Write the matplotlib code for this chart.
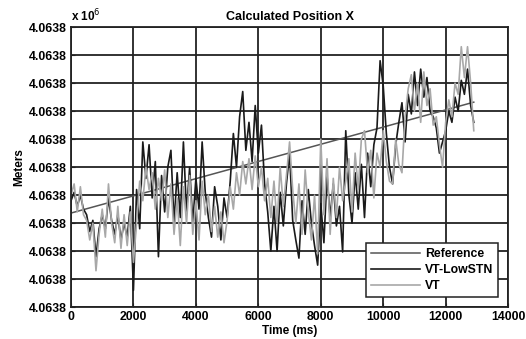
import numpy as np
import matplotlib.pyplot as plt
from matplotlib.ticker import FuncFormatter

plt.rcParams['font.family'] = ['Liberation Sans', 'DejaVu Sans']

# positions are stored as offsets (m) from pos_base
pos_base = 4063830.0
time_ms = np.arange(0, 13000, 100)

vt_lowstn = [
    3.8, 4.1, 3.6, 4.0, 3.5, 3.3, 2.7, 3.1, 1.8, 2.8,
    3.3, 2.8, 3.9, 3.1, 2.6, 3.3, 2.4, 3.0, 2.5, 3.6,
    0.6, 4.2, 2.8, 5.9, 4.6, 5.8, 3.9, 5.2, 1.8, 4.7,
    3.4, 5.0, 5.6, 3.0, 4.8, 3.2, 5.9, 3.4, 5.0, 3.0,
    4.6, 3.5, 5.9, 4.1, 3.2, 2.5, 4.3, 3.6, 2.4, 3.9,
    3.2, 4.5, 6.2, 5.0, 6.8, 7.7, 5.6, 6.6, 5.2, 7.2,
    5.5, 6.5, 4.4, 3.4, 2.0, 3.6, 2.0, 4.1, 2.9, 4.4,
    5.5, 3.1, 2.4, 1.75, 3.8, 2.6, 4.2, 3.0, 2.2, 1.5,
    3.7, 2.3, 4.7, 3.2, 4.4, 2.9, 3.6, 1.97, 6.3, 4.0,
    3.0, 4.8, 3.5, 5.1, 3.2, 5.5, 4.3, 5.8, 6.4, 8.8,
    7.9, 6.2, 5.0, 4.4, 5.8, 6.6, 7.3, 5.9, 7.6, 6.9,
    8.4, 7.2, 8.5, 7.5, 8.2, 7.0, 6.8, 6.4, 5.5, 5.9,
    6.3, 7.0, 6.6, 7.5, 7.0, 8.1, 7.6, 8.5, 7.2, 6.6,
]

vt = [
    4.0, 4.4, 3.4, 4.3, 3.3, 3.1, 2.4, 3.0, 1.3, 2.6,
    3.5, 2.5, 4.4, 3.0, 2.3, 3.6, 2.1, 3.3, 2.2, 3.4,
    1.6, 3.0, 4.5, 3.8, 5.0, 4.2, 4.8, 3.5, 4.6, 3.8,
    4.9, 3.2, 4.4, 2.6, 3.9, 2.2, 4.3, 3.0, 4.7, 2.6,
    3.8, 2.4, 4.5, 3.3, 4.0, 2.7, 3.6, 2.5, 3.4, 2.3,
    3.1, 4.3, 3.5, 4.8, 4.0, 5.2, 4.4, 5.3, 4.2, 5.4,
    4.3, 5.0, 3.8, 4.6, 3.2, 4.5, 3.0, 5.0, 3.6, 4.7,
    5.9, 4.2, 3.0, 4.4, 2.6, 4.9, 3.4, 2.4, 4.0, 1.9,
    6.0, 3.3, 5.3, 2.6, 4.6, 3.2, 5.0, 3.8, 4.5, 5.3,
    3.4, 5.5, 4.2, 6.0, 6.3, 4.8, 5.6, 3.9, 5.5, 5.0,
    6.3, 5.2, 4.5, 4.4, 6.0, 5.1, 4.8, 6.8, 7.8, 8.3,
    7.0, 8.0, 6.6, 8.4, 7.2, 7.8, 6.5, 6.8, 5.8, 5.0,
    6.6, 7.4, 6.8, 8.0, 7.6, 9.3, 8.2, 9.3, 8.0, 6.3,
]

ref_time = [0, 12900]
ref_pos = [3.36, 7.32]

fig = plt.figure(figsize=(5.26, 3.39), dpi=100)
ax = fig.add_axes([0.135, 0.094, 0.831, 0.826])

ax.plot(ref_time, pos_base + np.array(ref_pos), color='#555555', lw=1.1, label='Reference')
ax.plot(time_ms, pos_base + np.array(vt_lowstn), color='#1a1a1a', lw=1.2, label='VT-LowSTN')
ax.plot(time_ms, pos_base + np.array(vt), color='#a8a8a8', lw=1.2, label='VT')

ax.set_xlim(0, 14000)
ax.set_ylim(pos_base, pos_base + 10)
ax.set_xticks(np.arange(0, 14001, 2000))
ax.set_yticks(pos_base + np.arange(0, 11, 1))
ax.yaxis.set_major_formatter(FuncFormatter(lambda v, p: '%.4f' % (v / 1e6)))
ax.grid(True, color='#222222', lw=1.3, ls='-')
ax.tick_params(direction='in', labelsize=8.8, length=3, color='#222222', pad=3)
for lbl in ax.get_xticklabels() + ax.get_yticklabels():
    lbl.set_fontweight('semibold')
for s in ax.spines.values():
    s.set_color('#222222')
    s.set_linewidth(1.3)

ax.set_title('Calculated Position X', fontsize=9, fontweight='semibold', pad=5)
ax.set_xlabel('Time (ms)', fontsize=8.5, fontweight='semibold', labelpad=1)
ax.set_ylabel('Meters', fontsize=8.5, fontweight='semibold', labelpad=3)
ax.text(0.0, 1.01, r'x 10$^6$', transform=ax.transAxes, fontsize=8.5,
        fontweight='semibold', va='bottom', ha='left')

leg = ax.legend(loc='lower right', prop={'size': 8.8, 'weight': 'semibold'},
                fancybox=False, framealpha=1, edgecolor='#222222', handlelength=4,
                borderaxespad=0.8, labelspacing=0.35, handletextpad=0.4)
leg.get_frame().set_linewidth(1.1)

fig.savefig('out.png', dpi=100)
